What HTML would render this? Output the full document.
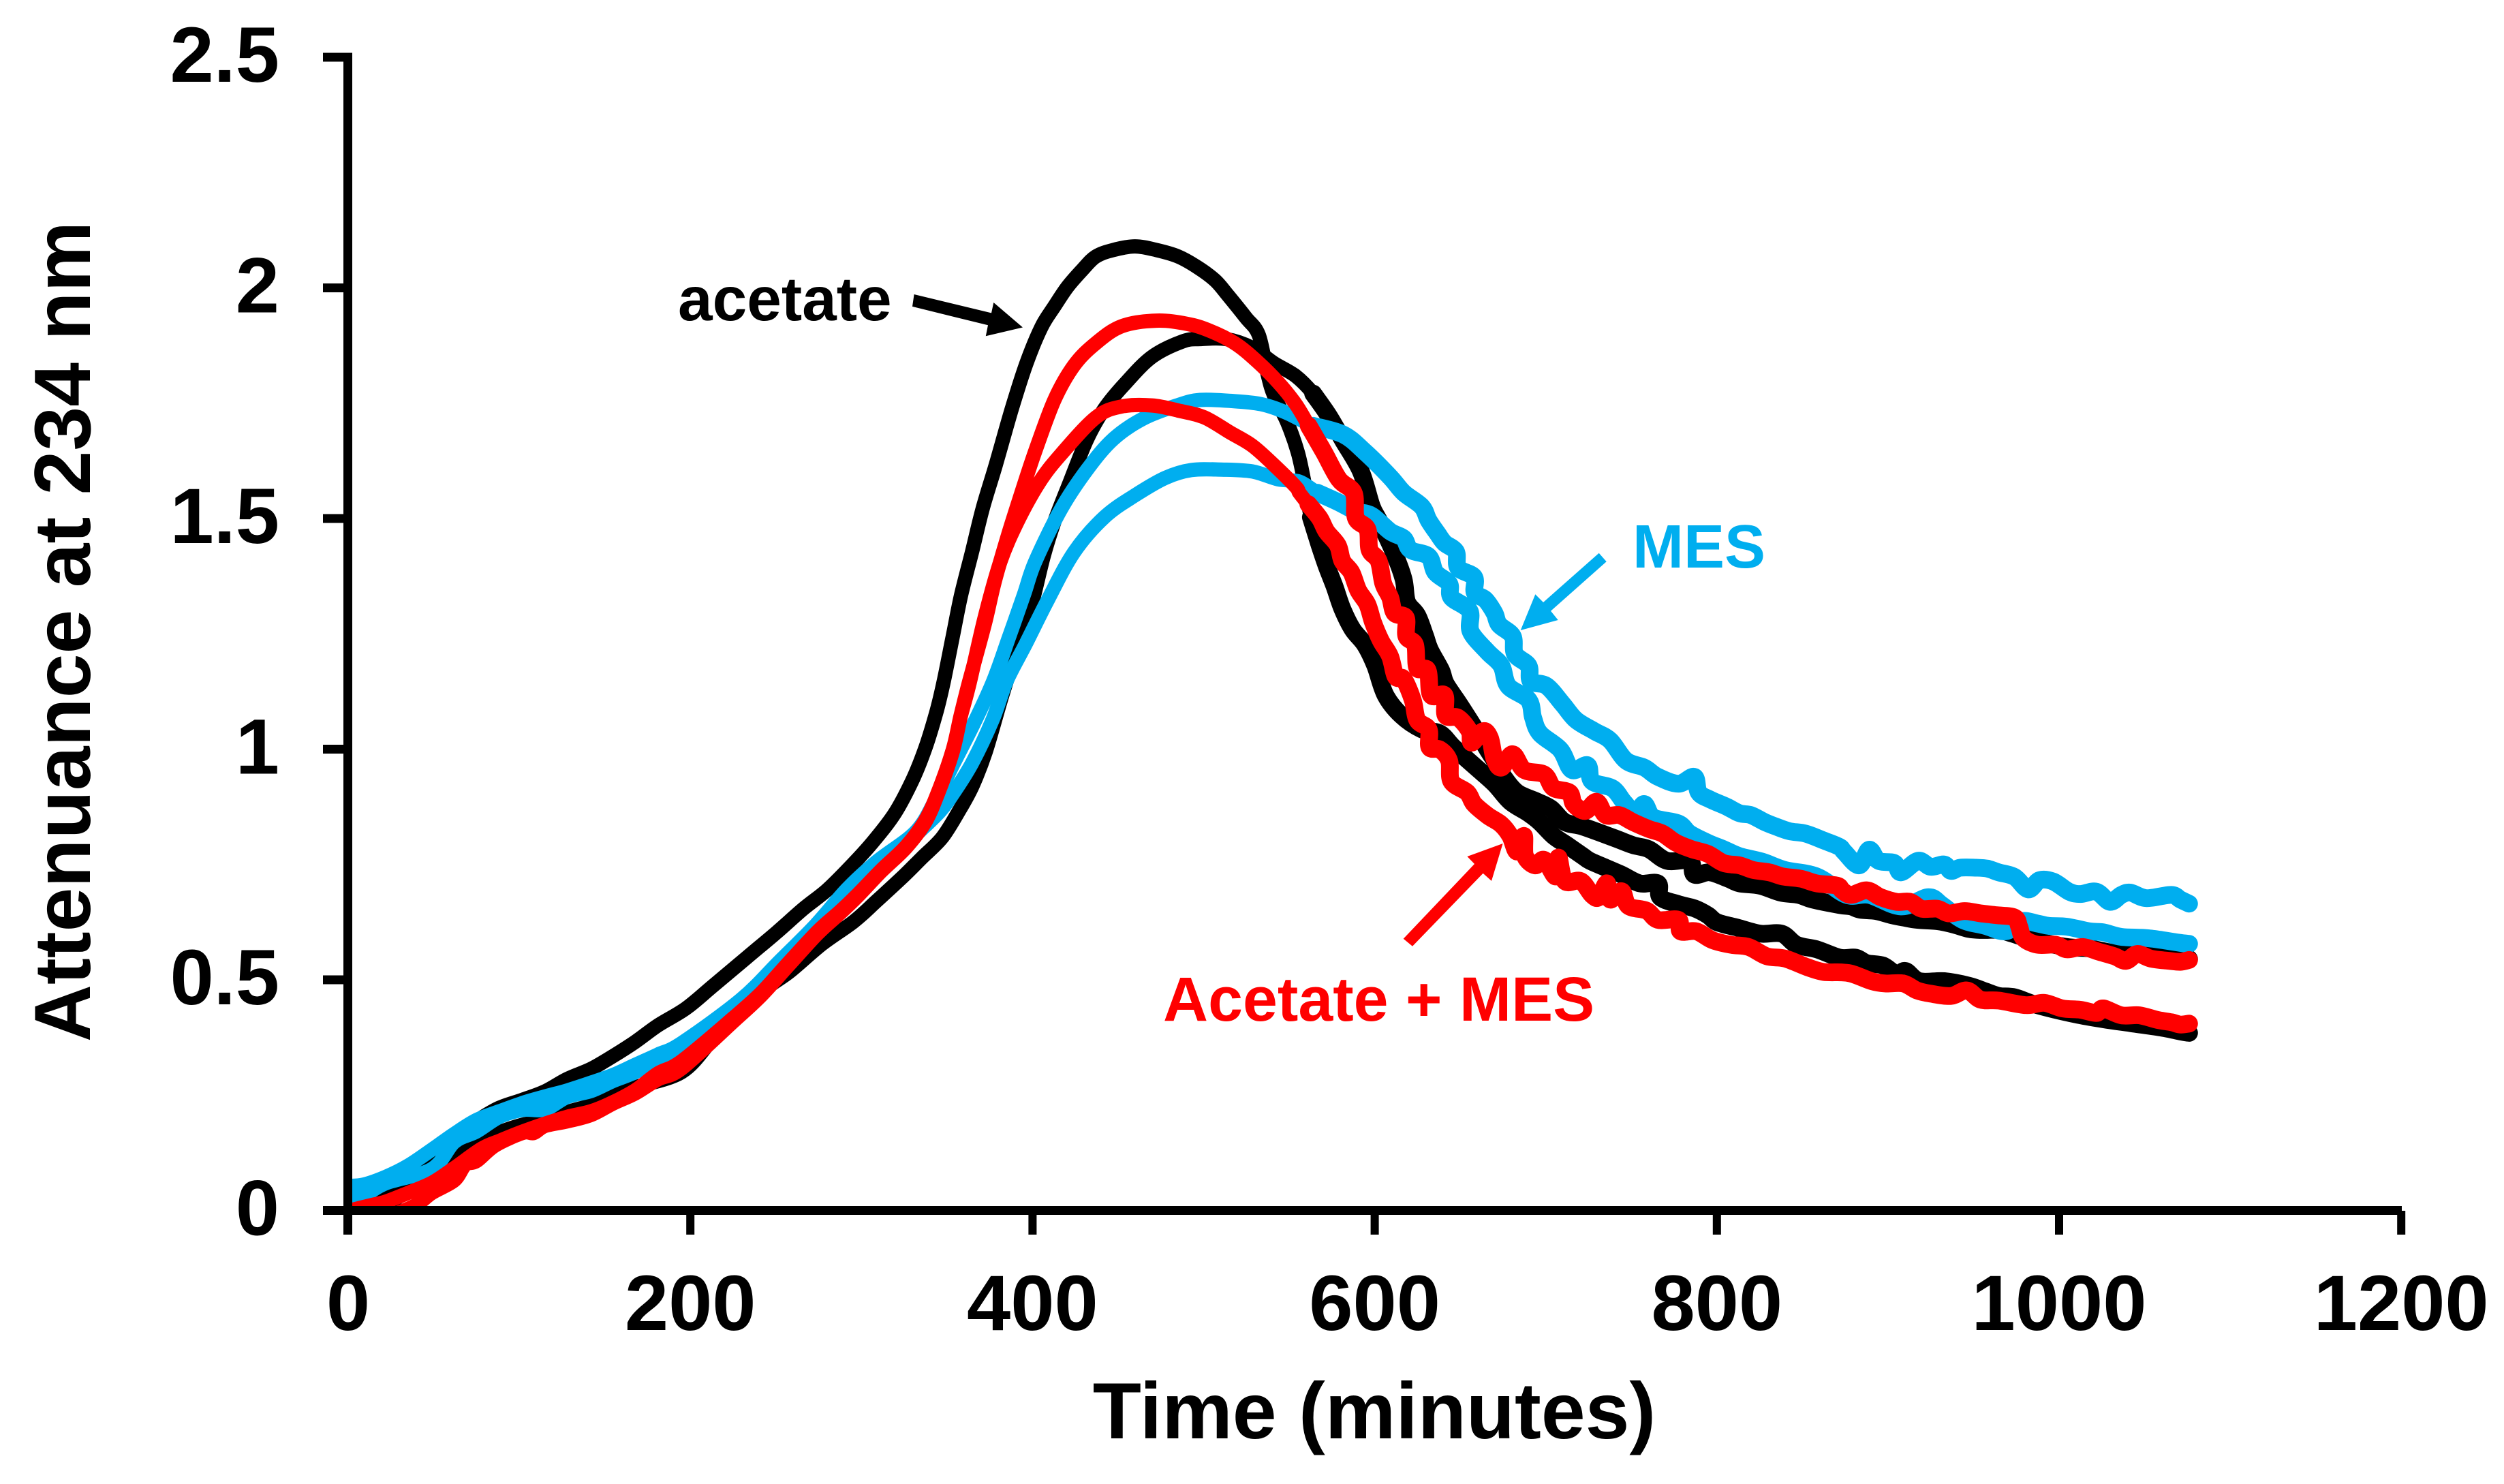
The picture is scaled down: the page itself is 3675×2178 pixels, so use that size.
<!DOCTYPE html>
<html lang="en">
<head>
<meta charset="utf-8">
<title>Attenuance at 234 nm over time</title>
<style>
html,body{margin:0;padding:0;background:#fff}
svg{display:block}
text{font-family:"Liberation Sans",Arial,sans-serif;font-weight:bold}
</style>
</head>
<body>
<svg id="chart" xmlns="http://www.w3.org/2000/svg" width="3675" height="2178" viewBox="0 0 3675 2178">
  <defs>
    <clipPath id="plot-clip"><rect x="509" y="60" width="3030" height="1723"/></clipPath>
  </defs>
  <rect x="0" y="0" width="3675" height="2178" fill="#ffffff"/>
  <g id="series" clip-path="url(#plot-clip)"></g>
  <g id="axes"></g>
  <text transform="translate(132 927) rotate(-90)" text-anchor="middle" font-size="116.5" fill="#000">Attenuance at 234 nm</text>
  <text x="2017" y="2111" text-anchor="middle" font-size="116.5" fill="#000">Time (minutes)</text>
  <text x="995" y="470" font-size="91" fill="#000">acetate</text>
  <text x="2396" y="833" font-size="90" fill="#00aeef">MES</text>
  <text x="1707" y="1498" font-size="91.5" fill="#ff0000">Acetate + MES</text>
  <polygon fill="#000" points="1501,480.5 1458.3,444 1455,459.4 1341.6,432 1339,449.9 1450,477.3 1446.8,493.2"/>
  <polygon fill="#00aeef" points="2231.7,925 2253.3,872.3 2265,884 2346.7,811.7 2357.7,824.3 2276,896.7 2286.7,910"/>
  <polygon fill="#ff0000" points="2205.6,1238 2153.4,1257 2164,1268 2059.7,1377.7 2073,1388.8 2176.6,1281.7 2189,1292.9"/>
</svg>
<script>
const xTickLabels = ["0","200","400","600","800","1000","1200"];
const yTickLabels = ["0","0.5","1","1.5","2","2.5"];

const acetateHigh = [[0,.02],[22,.044],[35,.079],[49,.118],[62,.162],[75,.194],[88,.222],[102,.24],[115,.258],[128,.285],[142,.307],[155,.335],[168,.366],[181,.401],[197.4,.438],[213.3,.487],[233.2,.549],[250.5,.603],[266.4,.655],[279.7,.694],[293,.743],[306.3,.797],[319.5,.861],[330.1,.935],[337.5,1.004],[344,1.083],[348.1,1.147],[353.1,1.239],[358.2,1.333],[364.6,1.427],[370.9,1.522],[378.5,1.616],[387.9,1.738],[396.3,1.835],[405.2,1.915],[412.8,1.96],[420.4,2.002],[429.3,2.04],[437,2.068],[447.1,2.082],[459.8,2.09],[472.5,2.082],[485.2,2.068],[496.7,2.044],[506.8,2.016],[514.4,1.983],[524.6,1.936],[532.2,1.898],[537.3,1.814],[541.1,1.767],[548.7,1.71],[555,1.644],[558.9,1.578],[562.7,1.503],[567.8,1.442],[571.8,1.398],[576.4,1.354],[581.1,1.304],[587,1.26],[594.4,1.226],[600.3,1.181],[606.3,1.117],[615.6,1.073],[627.5,1.043],[638.2,1.034],[646.1,1.004],[659.4,.96],[670,.925],[679.3,.886],[689.9,.861],[696.5,.842],[704.5,.812],[712.4,.792],[721.7,.768],[725.7,.758],[735,.743],[744.3,.728],[754.9,.709],[765.5,.709],[766.9,.679],[777.5,.664],[786.8,.655],[794.7,.64],[800,.625],[812,.613],[825.3,.6],[837.9,.6],[846.5,.576],[858.4,.566],[871.8,.548],[881.1,.548],[887.7,.536],[897,.531],[905,.512],[910.3,.519],[918.3,.497],[932.9,.497],[947.5,.487],[956.8,.475],[964.7,.465],[974,.462],[987.3,.445],[1009.9,.425],[1028.4,.413],[1041.7,.406],[1060.3,.396],[1070.9,.388],[1076,.385]];

const acetateLow = [[0,-.03],[15,-.01],[29,.028],[49,.078],[62,.117],[82,.159],[102,.186],[115,.191],[128,.213],[142,.228],[155,.25],[168,.267],[195,.3],[213,.37],[230,.43],[245,.483],[258.2,.518],[276.8,.577],[295.4,.626],[308.6,.67],[324.6,.725],[335.2,.764],[347.1,.808],[357,.866],[365,.921],[372.6,.994],[381.9,1.112],[390,1.206],[398.9,1.305],[406.5,1.418],[412.8,1.493],[421.7,1.578],[431.9,1.672],[442,1.738],[454.7,1.795],[470,1.851],[487.8,1.884],[497.9,1.889],[513.2,1.889],[528.4,1.87],[541.1,1.837],[553.8,1.809],[564,1.771],[572.9,1.724],[581.7,1.668],[591.9,1.602],[598.3,1.526],[603,1.492],[611.6,1.423],[616.9,1.368],[618.9,1.319],[624.9,1.29],[629.5,1.245],[632.2,1.216],[638.8,1.171],[641.5,1.142],[649.4,1.098],[658,1.048],[666,.999],[672.7,.96],[675.3,.94],[683.2,.906],[695.2,.886],[703.1,.871],[711.1,.842],[721.7,.832],[740.3,.807],[750.9,.792],[760.2,.783],[770.8,.758],[784.1,.758],[786.8,.728],[796,.733],[806.7,.719],[813.3,.709],[825.3,.704],[837.2,.689],[847.8,.684],[855.8,.674],[871.8,.662],[878.4,.659],[883.7,.652],[893,.649],[902.3,.64],[909,.635],[917,.63],[928.9,.627],[938.2,.62],[947.5,.61],[955.4,.608],[964.7,.608],[972.7,.6],[986,.585],[1004.6,.571],[1017.8,.568],[1032.4,.558],[1049.7,.556],[1067,.548],[1076,.545]];

const mesHigh = [[0,.053],[9,.056],[22,.073],[35,.097],[49,.132],[62,.166],[75,.196],[88.5,.215],[102,.233],[115,.247],[128,.26],[142,.277],[155,.294],[168,.316],[181,.338],[195,.363],[229.5,.457],[252.1,.54],[273.3,.619],[291.9,.698],[309.2,.757],[331.7,.821],[343.4,.891],[354,.97],[366,1.058],[377,1.147],[386,1.24],[395,1.335],[401.4,1.405],[416.6,1.52],[431.9,1.606],[447.1,1.672],[464.9,1.717],[485.2,1.746],[497.9,1.757],[515.7,1.755],[533.5,1.748],[548.7,1.729],[564,1.701],[581.7,1.682],[594.4,1.644],[609,1.59],[616.9,1.556],[627.5,1.526],[631.5,1.496],[636.8,1.467],[640.8,1.447],[647.5,1.428],[648.8,1.393],[658.1,1.373],[658.5,1.339],[664.7,1.324],[670,1.295],[672.7,1.27],[680.6,1.245],[682,1.206],[689.9,1.181],[691.3,1.147],[700.5,1.137],[709.8,1.098],[717.7,1.063],[728.4,1.039],[737.6,1.019],[746.9,.975],[757.6,.96],[765.5,.94],[777.5,.925],[786.8,.94],[789.4,.906],[796,.891],[805.3,.876],[813.3,.861],[819.9,.857],[827.9,.842],[834.6,.832],[842.5,.822],[851.8,.817],[862.4,.802],[871.7,.788],[874.5,.777],[883.1,.748],[889,.782],[894.4,.758],[903.7,.753],[907.6,.733],[917.6,.758],[924.9,.745],[932.9,.75],[936.8,.736],[942.2,.743],[951.5,.743],[958.1,.741],[964.7,.733],[974,.723],[982,.696],[988.6,.716],[996.6,.713],[1005.9,.691],[1012.5,.686],[1021.8,.691],[1029.8,.669],[1036.4,.684],[1041.7,.689],[1051,.677],[1065.6,.684],[1070.9,.674],[1076,.665]];

const mesLow = [[0,.029],[9,.032],[22,.059],[49,.09],[62,.148],[75,.171],[88.5,.203],[102,.218],[115,.219],[128,.246],[142,.259],[155,.281],[168,.3],[181,.329],[195,.35],[229.5,.435],[252.1,.52],[273.3,.6],[291.9,.68],[309.2,.74],[327.5,.8],[335.5,.827],[346.1,.866],[354,.906],[364.7,.97],[376.6,1.063],[384.8,1.147],[396.3,1.23],[409,1.324],[424.3,1.427],[442,1.503],[459.8,1.55],[477.6,1.588],[492.8,1.605],[510.6,1.606],[528.4,1.602],[543.6,1.585],[555.9,1.58],[566.5,1.556],[578.4,1.536],[589,1.516],[598.3,1.506],[609,1.472],[616.9,1.457],[620.9,1.432],[631.5,1.418],[635.5,1.383],[643.5,1.359],[644.8,1.329],[655.4,1.3],[656.1,1.255],[666,1.211],[674,1.181],[678,1.137],[689.9,1.107],[692.6,1.068],[696.6,1.034],[708.5,.999],[715.2,.955],[724.4,.965],[727.1,.93],[739,.915],[745.7,.885],[752.3,.861],[757.6,.881],[762.9,.852],[777.5,.839],[784.1,.817],[794.7,.797],[804,.783],[813.3,.768],[826.6,.756],[839.9,.738],[858.4,.724],[875.8,.684],[889,.684],[907.6,.659],[923.6,.679],[931.5,.662],[943.5,.63],[956.8,.617],[968.7,.605],[978,.627],[987.3,.622],[993.9,.617],[1004.6,.615],[1017.8,.605],[1025.8,.603],[1036.4,.593],[1052.3,.59],[1070.9,.58],[1076,.578]];

const bothHigh = [[0,-.001],[13,.011],[22,.019],[35,.038],[49,.06],[62,.092],[78,.134],[88.5,.151],[102,.171],[115,.188],[128,.203],[142,.215],[155,.235],[168,.261],[181,.297],[195,.324],[225.3,.418],[241.2,.471],[257.1,.536],[274.4,.605],[287.7,.649],[298.3,.687],[311.6,.738],[326.2,.79],[337.5,.847],[345.4,.913],[353.4,.999],[358,1.073],[363,1.147],[372,1.27],[378,1.365],[386.2,1.47],[393.8,1.559],[401.4,1.644],[412.8,1.757],[424.3,1.832],[437,1.88],[452.2,1.917],[472.5,1.929],[490.3,1.922],[503,1.908],[518.2,1.88],[530.9,1.842],[543.6,1.795],[553.8,1.748],[561.4,1.701],[570.3,1.644],[579.1,1.585],[587.7,1.556],[589,1.501],[595.7,1.477],[597,1.432],[602.3,1.408],[605,1.359],[609,1.329],[611.6,1.295],[618.2,1.285],[618.5,1.245],[623.6,1.226],[624.9,1.176],[630.9,1.171],[632.9,1.117],[640.8,1.117],[641.5,1.073],[648.8,1.068],[655.4,1.039],[656.7,1.014],[663.4,1.039],[667.4,1.024],[670,.979],[674,.96],[680.6,.989],[687.3,.955],[699.1,.945],[704.5,.916],[713.8,.906],[716.4,.881],[723,.866],[729.7,.886],[735,.857],[743,.857],[750.9,.842],[760.2,.827],[768.2,.817],[776.1,.797],[785.4,.783],[794.7,.773],[804,.753],[813.3,.748],[821.3,.738],[830.6,.733],[838.5,.724],[849.2,.719],[858.4,.709],[870.4,.704],[873.1,.694],[878.4,.684],[887.7,.694],[895.7,.679],[905,.669],[913,.669],[919.6,.654],[928.9,.654],[935.5,.644],[944.8,.649],[954.1,.644],[963.4,.64],[974,.635],[976.7,.615],[979.3,.59],[987.3,.576],[997.9,.576],[1004.6,.566],[1013.8,.571],[1023.1,.561],[1032.4,.551],[1039.1,.541],[1045.7,.556],[1053.7,.546],[1064.3,.541],[1070.9,.539],[1076,.543]];

const bothLow = [[0,-.03],[13,-.025],[22,-.015],[39,.0105],[49,.038],[62,.065],[68.5,.099],[75,.107],[86,.141],[102,.168],[108.5,.168],[115,.183],[128,.193],[142,.207],[155,.232],[168,.254],[181,.284],[195,.308],[225.3,.41],[241.2,.465],[257.1,.53],[274.4,.6],[287.7,.645],[298.3,.683],[311.6,.735],[326.2,.787],[337.5,.843],[345.4,.91],[353.4,.995],[358,1.07],[363,1.14],[372,1.285],[381.1,1.405],[391.2,1.493],[403.9,1.578],[416.6,1.639],[437,1.719],[452.2,1.743],[470,1.745],[485.2,1.734],[500.5,1.719],[515.7,1.686],[528.4,1.658],[541.1,1.616],[553.8,1.569],[555.9,1.556],[561.2,1.531],[567.8,1.501],[571.8,1.472],[578.4,1.442],[581.1,1.408],[586.4,1.383],[590.4,1.344],[595.7,1.314],[599,1.275],[603.6,1.235],[609,1.201],[612.3,1.157],[616.9,1.152],[622.2,1.107],[624.9,1.063],[631.5,1.043],[632,1.004],[638.2,.999],[643.5,.975],[644.8,.93],[654.1,.906],[658.1,.881],[666,.856],[673.9,.837],[679.2,.812],[683.2,.778],[687.2,.812],[687.9,.768],[693.8,.748],[699.1,.76],[705.8,.724],[707.4,.765],[711.1,.714],[720.4,.714],[727,.684],[731,.679],[735.7,.709],[737.6,.674],[744.3,.692],[748.3,.66],[758.9,.65],[765.5,.63],[777.5,.63],[778.8,.605],[788.1,.605],[797.4,.586],[808,.576],[818.6,.571],[829.2,.551],[839.9,.546],[853.1,.527],[862.4,.517],[873.1,.516],[879.8,.512],[890.4,.497],[898.4,.492],[909,.492],[916.9,.477],[924.9,.47],[936.8,.465],[946.1,.477],[954.1,.457],[964.7,.455],[980.7,.445],[991.3,.45],[1001.9,.438],[1012.5,.435],[1021.8,.428],[1025.8,.438],[1036.4,.423],[1047,.423],[1057.6,.413],[1065.6,.408],[1070.9,.403],[1076,.405]];

const NS = 'http://www.w3.org/2000/svg';
const X_ZERO = 511, X_PER_MINUTE = 2.511;
const Y_ZERO = 1776.5, Y_PER_UNIT = 677;
const NOISY_FROM_MINUTE = 560;
function xScale(minutes){ return X_ZERO + minutes * X_PER_MINUTE; }
function yScale(attenuance){ return Y_ZERO - attenuance * Y_PER_UNIT; }

const seriesLayer = document.getElementById('series');
const axesLayer = document.getElementById('axes');

function curvePath(trace){
  const pts = trace.map(p => [xScale(p[0]), yScale(p[1])]);
  let d = 'M' + pts[0][0].toFixed(1) + ' ' + pts[0][1].toFixed(1);
  for (let i = 0; i < pts.length - 1; i++) {
    const p0 = pts[Math.max(0, i - 1)], p1 = pts[i], p2 = pts[i + 1], p3 = pts[Math.min(pts.length - 1, i + 2)];
    const c1x = p1[0] + (p2[0] - p0[0]) / 6, c1y = p1[1] + (p2[1] - p0[1]) / 6;
    const c2x = p2[0] - (p3[0] - p1[0]) / 6, c2y = p2[1] - (p3[1] - p1[1]) / 6;
    d += 'C' + c1x.toFixed(1) + ' ' + c1y.toFixed(1) + ' ' + c2x.toFixed(1) + ' ' + c2y.toFixed(1) + ' ' + p2[0].toFixed(1) + ' ' + p2[1].toFixed(1);
  }
  return d;
}
function makeLine(trace, colour, width){
  const el = document.createElementNS(NS, 'path');
  el.setAttribute('d', curvePath(trace));
  el.setAttribute('fill', 'none');
  el.setAttribute('stroke', colour);
  el.setAttribute('stroke-width', width);
  el.setAttribute('stroke-linejoin', 'round');
  el.setAttribute('stroke-linecap', 'round');
  seriesLayer.appendChild(el);
  return el;
}
function noisyPart(trace){ return trace.filter(p => p[0] >= NOISY_FROM_MINUTE); }

let line;
line = makeLine(acetateHigh, '#000000', 21);


line = makeLine(noisyPart(acetateHigh), '#000000', 26);


line = makeLine(acetateLow, '#000000', 21);


line = makeLine(noisyPart(acetateLow), '#000000', 26);


line = makeLine(mesLow, '#00aeef', 21);


line = makeLine(noisyPart(mesLow), '#00aeef', 26);


line = makeLine(mesHigh, '#00aeef', 21);


line = makeLine(noisyPart(mesHigh), '#00aeef', 26);


line = makeLine(bothLow, '#ff0000', 21);


line = makeLine(noisyPart(bothLow), '#ff0000', 26);


line = makeLine(bothHigh, '#ff0000', 21);


line = makeLine(noisyPart(bothHigh), '#ff0000', 26);



function makeRect(x, y, w, h){
  const el = document.createElementNS(NS, 'rect');
  el.setAttribute('x', x);
  el.setAttribute('y', y);
  el.setAttribute('width', w);
  el.setAttribute('height', h);
  el.setAttribute('fill', '#000');
  axesLayer.appendChild(el);
  return el;
}
function makeText(x, y, anchor, content){
  const el = document.createElementNS(NS, 'text');
  el.setAttribute('x', x);
  el.setAttribute('y', y);
  el.setAttribute('text-anchor', anchor);
  el.setAttribute('font-size', '115.5');
  el.setAttribute('fill', '#000');
  el.textContent = content;
  axesLayer.appendChild(el);
  return el;
}

const yAxis = makeRect(504, 77.5, 13, 1734.5);


const xAxis = makeRect(474, 1770, 3051, 13);



yTickLabels.forEach(function(label){
  const py = yScale(parseFloat(label));
  const tick = makeRect(474, py - 6.5, 37, 13);
  
  
  const txt = makeText(410, py + 36, 'end', label);
  
  
});
xTickLabels.forEach(function(label){
  const px = xScale(parseFloat(label));
  const tick = makeRect(px - 6, 1777, 12, 35);
  
  
  const txt = makeText(px, 1952, 'middle', label);
  
  
});
</script>
</body>
</html>
